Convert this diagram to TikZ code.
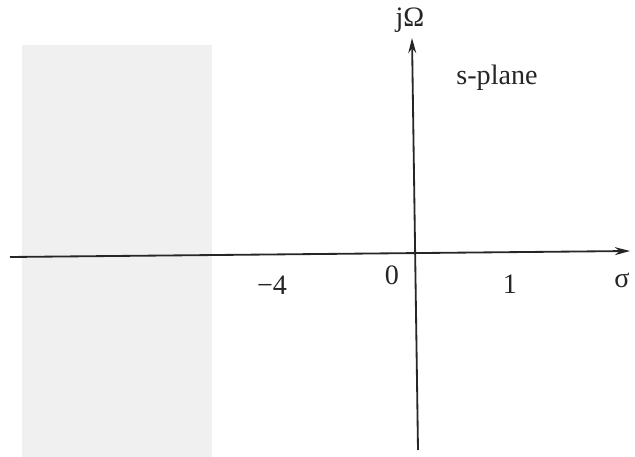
\documentclass[tikz,border=0pt]{standalone}
\usepackage{fontspec}
\setmainfont{Liberation Serif}
\usetikzlibrary{positioning,arrows.meta}

\begin{document}
\begin{tikzpicture}[
  x=0.025cm,y=-0.025cm,
  font=\fontsize{20}{24}\selectfont,
  axis/.style={-{Stealth[length=3.8mm,width=2mm]},line width=1.3pt,black!85},
  region/.style={fill=gray!12,draw=none},
  lbl/.style={inner sep=1pt,text=black!85},
]
\useasboundingbox (0,0) rectangle (635,457);
% shaded strip on the left
\fill[region] (22,45) rectangle (212,457);

% axes
\coordinate (xl) at (10,257);
\coordinate (xr) at (630,251);
\coordinate (yb) at (418,450);
\coordinate (yt) at (412,38);
\draw[axis] (xl) -- (xr);
\draw[axis] (yb) -- (yt);

% labels
\node[lbl] (jw) at (410,20) {jΩ};
\node[lbl] (plane) at (497,78) {s-plane};
\node[lbl] (m4) at (272,285) {−4};
\node[lbl] (zero) at (392,275) {0};
\node[lbl] (one) at (510,284) {1};
\node[lbl] (sig) at (622,280) {σ};
\end{tikzpicture}
\end{document}
